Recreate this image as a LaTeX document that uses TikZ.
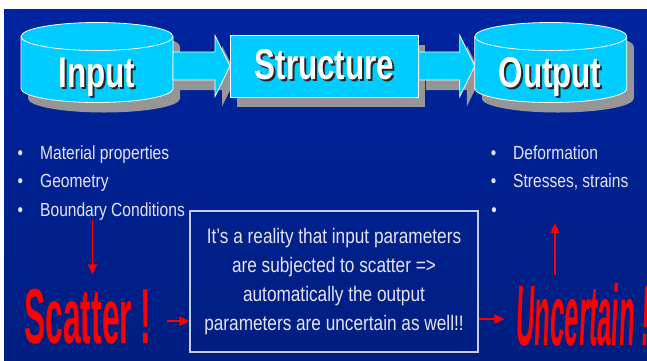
\documentclass[tikz,border=0pt]{standalone}
\usepackage{fontspec}
\setmainfont{Liberation Sans}[FakeStretch=0.82]
\newfontfamily\headfont{Liberation Sans}[FakeStretch=0.73]
\newfontfamily\artfont{Liberation Sans}
\usetikzlibrary{arrows.meta,shadows}

\definecolor{bgtop}{RGB}{0,36,160}
\definecolor{bgbot}{RGB}{0,30,128}
\definecolor{drumcyan}{RGB}{0,204,255}
\definecolor{shadowgray}{RGB}{150,150,150}
\definecolor{paletext}{RGB}{228,228,245}
\definecolor{notegray}{RGB}{200,205,230}

% white lettering with a dark copy offset behind it
\newcommand\embossed[1]{\makebox[0pt][l]{\hspace{2pt}\raisebox{-2pt}{\color{black!85}#1}}#1}

\tikzset{
  gshadow/.style={drop shadow={shadow xshift=7pt,shadow yshift=-10pt,fill=shadowgray,opacity=1}},
  drum/.pic={
    \draw[white,line width=0.8pt,fill=drumcyan,gshadow]
      (-76,0) -- (-76,-52) arc[start angle=180,end angle=360,x radius=76,y radius=14]
      -- (76,0) arc[start angle=0,end angle=180,x radius=76,y radius=14] -- cycle;
    \draw[white,line width=0.8pt] (-76,0) arc[start angle=180,end angle=360,x radius=76,y radius=14];
    \coordinate (-east) at (76,-29.5);
  },
  blockarrow/.style={draw=white,line width=0.8pt,fill=drumcyan,gshadow},
  headtext/.style={text=white,inner sep=0pt,font=\headfont\bfseries\fontsize{43}{50}\selectfont},
  box/.style={headtext,draw=white,line width=0.8pt,fill=drumcyan,gshadow,minimum width=188,minimum height=62},
  item/.style={text=paletext,inner sep=0pt,anchor=base west,font=\fontsize{19}{24}\selectfont},
  note/.style={draw=notegray,line width=1.2pt,text=paletext,inner sep=0pt,minimum width=288,minimum height=141,
    align=center,font=\fontsize{21}{29}\selectfont},
  wordart/.style={text=red,inner sep=0pt,yscale=1.3,font=\artfont\bfseries\fontsize{60}{62}\selectfont},
  redarrow/.style={red,line width=1.8pt,-{Triangle[length=10pt,width=9pt]}}
}

\begin{document}
\begin{tikzpicture}[x=1pt,y=1pt]
  \useasboundingbox (0,0) rectangle (647,-360);
  \fill[white] (0,0) rectangle (647,-360);
  \shade[top color=bgtop,bottom color=bgbot] (4,-9) rectangle (647,-360);

  % top row
  \pic (in) at (97,-36.5) {drum};
  \node[headtext,anchor=base] (input) at (97,-87) {\embossed{Input}};
  \draw[blockarrow] ([yshift=14pt]in-east) -- ++(42,0) -- ++(0,16.5) -- ++(15,-30.5) coordinate (tip1)
    -- ++(-15,-30.5) -- ++(0,16.5) -- ++(-42,0) -- cycle;
  \node[box,anchor=west] (struct) at (tip1) {\embossed{Structure}};
  \draw[blockarrow] ([yshift=14pt]struct.east) -- ++(41,0) -- ++(0,16.5) -- ++(15,-30.5) coordinate (tip2)
    -- ++(-15,-30.5) -- ++(0,16.5) -- ++(-41,0) -- cycle;
  \pic (out) at ([shift={(76,29.5)}]tip2) {drum};
  \node[headtext,anchor=base] (output) at (550,-87) {\embossed{Output}};

  % bullet lists
  \node[item] (mat) at (40,-159) {\llap{•\hspace{17pt}}Material properties};
  \node[item] (geo) at (40,-187.5) {\llap{•\hspace{17pt}}Geometry};
  \node[item] (bc) at (40,-216) {\llap{•\hspace{17pt}}Boundary Conditions};
  \node[item] (def) at (513,-159) {\llap{•\hspace{17pt}}Deformation};
  \node[item] (str) at (513,-187.5) {\llap{•\hspace{17pt}}Stresses, strains};
  \node[item] (blank) at (513,-216) {\llap{•\hspace{17pt}}};

  % middle note
  \node[note] (note) at (334,-281.5) {It’s a reality that input parameters\\
    are subjected to scatter =>\\ automatically the output\\ parameters are uncertain as well!!};

  \node[wordart,xscale=0.53,anchor=base] (scatter) at (88,-343) {Scatter !};
  \node[wordart,xscale=0.39,xslant=0.15,anchor=base west,font=\artfont\bfseries\fontsize{66}{68}\selectfont]
    (uncert) at (515,-345) {Uncertain !};

  \draw[redarrow,shorten >=14pt] ([xshift=-20pt]bc.south) -- ([xshift=-20pt]bc.south |- scatter.north);
  \draw[redarrow] ([xshift=15pt,yshift=-5pt]scatter.east) -- ([yshift=-5pt]scatter.east -| note.west);
  \draw[redarrow,shorten >=12pt] ([yshift=-37.5pt]note.east) -- ([yshift=-37.5pt]note.east -| uncert.west);
  \coordinate (uptail) at (555,-275);
  \draw[redarrow,shorten >=7pt] (uptail) -- (uptail |- blank.south);
\end{tikzpicture}
\end{document}
